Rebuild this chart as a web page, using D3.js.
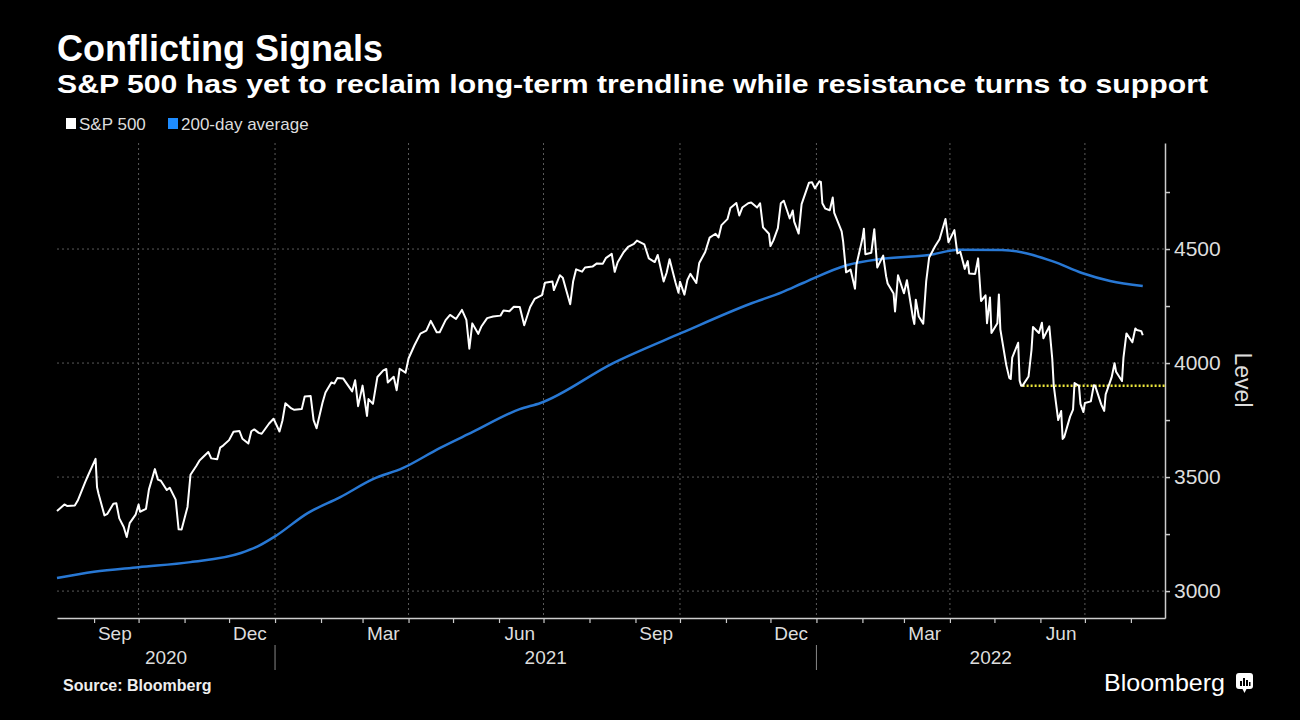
<!DOCTYPE html>
<html>
<head>
<meta charset="utf-8">
<script src="https://cdn.jsdelivr.net/npm/d3@7"></script>
<style>
  body { margin: 0; background: #000; }
  svg text { font-family: "Liberation Sans", Arial, sans-serif; }
</style>
</head>
<body>
<svg id="chart" width="1300" height="720"></svg>
<script>
// S&P 500 closes
var spx = [
  ["2020-08-07",3351],["2020-08-12",3380],["2020-08-14",3373],["2020-08-19",3375],["2020-08-21",3397],
  ["2020-08-26",3478],["2020-08-28",3508],["2020-09-02",3580],["2020-09-03",3455],["2020-09-04",3427],
  ["2020-09-08",3332],["2020-09-10",3339],["2020-09-14",3383],["2020-09-16",3385],["2020-09-18",3319],
  ["2020-09-21",3281],["2020-09-23",3237],["2020-09-25",3298],["2020-09-29",3335],["2020-10-01",3380],
  ["2020-10-02",3348],["2020-10-06",3361],["2020-10-08",3446],["2020-10-12",3535],["2020-10-14",3489],
  ["2020-10-16",3484],["2020-10-20",3443],["2020-10-22",3453],["2020-10-26",3401],["2020-10-28",3271],
  ["2020-10-30",3270],["2020-11-03",3369],["2020-11-05",3510],["2020-11-09",3550],["2020-11-11",3572],
  ["2020-11-13",3585],["2020-11-17",3610],["2020-11-19",3582],["2020-11-23",3578],["2020-11-25",3629],
  ["2020-11-27",3638],["2020-12-01",3662],["2020-12-04",3699],["2020-12-08",3702],["2020-12-10",3668],
  ["2020-12-14",3647],["2020-12-16",3701],["2020-12-18",3709],["2020-12-21",3694],["2020-12-23",3690],
  ["2020-12-28",3735],["2020-12-31",3756],["2021-01-04",3700],["2021-01-06",3748],["2021-01-08",3824],
  ["2021-01-12",3801],["2021-01-14",3795],["2021-01-19",3798],["2021-01-21",3853],["2021-01-25",3855],
  ["2021-01-27",3750],["2021-01-29",3714],["2021-02-02",3826],["2021-02-04",3871],["2021-02-08",3915],
  ["2021-02-10",3910],["2021-02-12",3934],["2021-02-16",3932],["2021-02-18",3913],["2021-02-22",3876],
  ["2021-02-24",3925],["2021-02-26",3811],["2021-03-01",3901],["2021-03-04",3768],["2021-03-05",3842],
  ["2021-03-08",3821],["2021-03-11",3939],["2021-03-15",3968],["2021-03-17",3974],["2021-03-18",3915],
  ["2021-03-22",3940],["2021-03-24",3881],["2021-03-26",3975],["2021-03-30",3958],["2021-04-01",4020],
  ["2021-04-05",4078],["2021-04-09",4129],["2021-04-13",4142],["2021-04-16",4185],["2021-04-20",4135],
  ["2021-04-22",4135],["2021-04-26",4188],["2021-04-29",4211],["2021-05-03",4193],["2021-05-07",4233],
  ["2021-05-10",4189],["2021-05-12",4063],["2021-05-14",4174],["2021-05-18",4128],["2021-05-20",4159],
  ["2021-05-24",4197],["2021-05-28",4204],["2021-06-02",4208],["2021-06-04",4230],["2021-06-08",4227],
  ["2021-06-11",4247],["2021-06-15",4246],["2021-06-18",4166],["2021-06-22",4246],["2021-06-25",4281],
  ["2021-06-30",4298],["2021-07-02",4352],["2021-07-07",4358],["2021-07-08",4320],["2021-07-12",4385],
  ["2021-07-14",4374],["2021-07-16",4327],["2021-07-19",4258],["2021-07-21",4359],["2021-07-23",4411],
  ["2021-07-27",4401],["2021-07-29",4419],["2021-08-03",4423],["2021-08-06",4437],["2021-08-10",4436],
  ["2021-08-12",4460],["2021-08-16",4479],["2021-08-18",4400],["2021-08-20",4442],["2021-08-24",4486],
  ["2021-08-27",4509],["2021-08-31",4523],["2021-09-02",4537],["2021-09-07",4520],["2021-09-10",4459],
  ["2021-09-14",4443],["2021-09-16",4474],["2021-09-20",4358],["2021-09-22",4396],["2021-09-24",4455],
  ["2021-09-28",4353],["2021-09-30",4308],["2021-10-01",4357],["2021-10-04",4300],["2021-10-06",4364],
  ["2021-10-08",4391],["2021-10-12",4351],["2021-10-14",4439],["2021-10-18",4487],["2021-10-21",4550],
  ["2021-10-25",4567],["2021-10-27",4551],["2021-10-29",4605],["2021-11-02",4631],["2021-11-04",4680],
  ["2021-11-08",4702],["2021-11-10",4647],["2021-11-12",4682],["2021-11-16",4701],["2021-11-18",4704],
  ["2021-11-22",4682],["2021-11-24",4701],["2021-11-26",4595],["2021-11-30",4567],["2021-12-01",4513],
  ["2021-12-03",4538],["2021-12-06",4592],["2021-12-08",4701],["2021-12-10",4712],["2021-12-14",4634],
  ["2021-12-16",4669],["2021-12-17",4620],["2021-12-20",4568],["2021-12-22",4697],["2021-12-27",4791],
  ["2021-12-29",4793],["2021-12-31",4766],["2022-01-03",4797],["2022-01-04",4794],["2022-01-05",4701],
  ["2022-01-07",4677],["2022-01-10",4670],["2022-01-12",4726],["2022-01-13",4659],["2022-01-18",4577],
  ["2022-01-19",4533],["2022-01-21",4398],["2022-01-24",4410],["2022-01-27",4326],["2022-01-28",4432],
  ["2022-02-01",4546],["2022-02-02",4589],["2022-02-03",4477],["2022-02-07",4484],["2022-02-09",4587],
  ["2022-02-11",4419],["2022-02-15",4471],["2022-02-17",4380],["2022-02-18",4349],["2022-02-22",4305],
  ["2022-02-23",4226],["2022-02-25",4385],["2022-03-01",4306],["2022-03-03",4363],["2022-03-07",4201],
  ["2022-03-08",4171],["2022-03-09",4278],["2022-03-11",4204],["2022-03-14",4173],["2022-03-16",4358],
  ["2022-03-18",4463],["2022-03-22",4512],["2022-03-25",4543],["2022-03-29",4632],["2022-03-31",4530],
  ["2022-04-04",4583],["2022-04-06",4481],["2022-04-08",4488],["2022-04-11",4413],["2022-04-13",4447],
  ["2022-04-14",4393],["2022-04-18",4391],["2022-04-20",4459],["2022-04-22",4272],["2022-04-25",4297],
  ["2022-04-26",4175],["2022-04-28",4288],["2022-04-29",4132],["2022-05-03",4175],["2022-05-04",4301],
  ["2022-05-05",4147],["2022-05-09",3991],["2022-05-11",3935],["2022-05-12",3930],["2022-05-13",4024],
  ["2022-05-17",4089],["2022-05-18",3923],["2022-05-19",3901],["2022-05-20",3901],["2022-05-24",3941],
  ["2022-05-26",4058],["2022-05-27",4158],["2022-05-31",4132],["2022-06-02",4177],["2022-06-03",4109],
  ["2022-06-07",4161],["2022-06-09",4018],["2022-06-10",3901],["2022-06-13",3750],["2022-06-15",3790],
  ["2022-06-16",3667],["2022-06-17",3675],["2022-06-21",3765],["2022-06-23",3796],["2022-06-24",3912],
  ["2022-06-27",3900],["2022-06-28",3821],["2022-06-30",3785],["2022-07-01",3825],["2022-07-05",3832],
  ["2022-07-07",3903],["2022-07-08",3899],["2022-07-12",3819],["2022-07-14",3790],["2022-07-15",3863],
  ["2022-07-19",3937],["2022-07-21",3999],["2022-07-22",3962],["2022-07-26",3921],["2022-07-27",4024],
  ["2022-07-29",4130],["2022-08-02",4091],["2022-08-04",4152],["2022-08-05",4145],["2022-08-08",4140],
  ["2022-08-09",4122]
];

// 200-day moving average
var ma200 = [
  ["2020-08-07",3057],["2020-09-01",3085],["2020-10-01",3105],["2020-11-05",3127],["2020-12-09",3167],
  ["2020-12-20",3195],["2021-01-01",3240],["2021-01-23",3342],["2021-02-14",3412],["2021-03-08",3491],
  ["2021-03-28",3539],["2021-04-22",3627],["2021-05-14",3697],["2021-06-15",3798],["2021-06-29",3825],
  ["2021-08-17",4000],["2021-10-02",4132],["2021-11-17",4259],["2021-12-09",4311],["2021-12-23",4351],
  ["2022-01-22",4430],["2022-02-13",4456],["2022-03-18",4474],["2022-04-07",4497],["2022-05-06",4496],
  ["2022-06-09",4447],["2022-06-29",4395],["2022-07-18",4360],["2022-08-09",4338]
];

// support line drawn from the May low
var support = [["2022-05-20",3900],["2022-08-24",3900]];

var yMajor = [3000, 3500, 4000, 4500];
var yMinor = [3250, 3750, 4250, 4750];
var monthLabels = ["Sep", "Dec", "Mar", "Jun"];
var years = ["2020", "2021", "2022"];

var parse = d3.timeParse("%Y-%m-%d");
var svg = d3.select("#chart");

var plotLeft = 57, plotRight = 1165, plotTop = 143, plotBottom = 618;

var x = d3.scaleTime()
  .domain([new Date(2020, 7, 7), new Date(2022, 7, 24)])
  .range([plotLeft, plotRight]);
var y = d3.scaleLinear().domain([2882, 4965]).range([plotBottom, plotTop]);

svg.append("rect").attr("width", 1300).attr("height", 720).attr("fill", "#000");

// titles
svg.append("text").attr("x", 57).attr("y", 61)
  .attr("fill", "#fff").attr("font-size", 36).attr("font-weight", "bold")
  .text("Conflicting Signals");
svg.append("text").attr("x", 57).attr("y", 93)
  .attr("fill", "#fff").attr("font-size", 25).attr("font-weight", "bold")
  .attr("textLength", 1151).attr("lengthAdjust", "spacingAndGlyphs")
  .text("S&P 500 has yet to reclaim long-term trendline while resistance turns to support");

// legend
var legend = [{name: "S&P 500", color: "#fff", x: 66}, {name: "200-day average", color: "#1e8cff", x: 168}];
legend.forEach(function(d) {
  svg.append("rect").attr("x", d.x).attr("y", 118).attr("width", 10).attr("height", 11).attr("fill", d.color);
  svg.append("text").attr("x", d.x + 13).attr("y", 130).attr("fill", "#ddd").attr("font-size", 17).text(d.name);
});

// gridlines
svg.append("g").selectAll("line").data(yMajor).enter().append("line")
  .attr("x1", plotLeft).attr("x2", plotRight)
  .attr("y1", function(d) { return y(d); }).attr("y2", function(d) { return y(d); })
  .attr("stroke", "#5a5a5a").attr("stroke-dasharray", "2,3");

var months = d3.timeMonth.range(new Date(2020, 7, 8), new Date(2022, 7, 24));
var quarters = months.filter(function(d) { return d.getMonth() % 3 === 0; });
svg.append("g").selectAll("line").data(quarters).enter().append("line")
  .attr("x1", function(d) { return x(d); }).attr("x2", function(d) { return x(d); })
  .attr("y1", plotTop).attr("y2", plotBottom)
  .attr("stroke", "#5a5a5a").attr("stroke-dasharray", "2,3");

// right axis
var yAxis = d3.axisRight(y)
  .tickValues(yMajor.concat(yMinor))
  .tickSize(5).tickSizeOuter(0)
  .tickFormat(function(d) { return yMajor.indexOf(d) >= 0 ? d : ""; });
var gy = svg.append("g").attr("transform", "translate(" + plotRight + ",0)").call(yAxis);
gy.select(".domain").attr("stroke", "#ccc").attr("stroke-width", 1.5);
gy.selectAll(".tick line").attr("stroke", "#ccc").attr("stroke-width", 1.5);
gy.selectAll(".tick text").attr("fill", "#ddd").attr("font-size", 21)
  .attr("x", 9).attr("font-family", "Liberation Sans, Arial, sans-serif");

svg.append("text")
  .attr("transform", "translate(1235,380) rotate(90)")
  .attr("text-anchor", "middle").attr("fill", "#ddd").attr("font-size", 23)
  .text("Level");

// bottom axis
var xAxis = d3.axisBottom(x).tickValues(months).tickSize(5).tickSizeOuter(0).tickFormat("");
var gx = svg.append("g").attr("transform", "translate(0," + plotBottom + ")").call(xAxis);
gx.select(".domain").attr("stroke", "#ccc").attr("stroke-width", 1.5);
gx.selectAll(".tick line").attr("stroke", "#ccc").attr("stroke-width", 1.2);

var labelled = months.filter(function(d) { return d.getMonth() % 3 === 2; });
svg.append("g").selectAll("text").data(labelled).enter().append("text")
  .attr("x", function(d) { return x(d3.timeDay.offset(d, 14)); })
  .attr("y", 640).attr("text-anchor", "middle")
  .attr("fill", "#ddd").attr("font-size", 19)
  .text(function(d) { return monthLabels[[8, 11, 2, 5].indexOf(d.getMonth())]; });

var yearStarts = [new Date(2021, 0, 1), new Date(2022, 0, 1)];
svg.append("g").selectAll("line").data(yearStarts).enter().append("line")
  .attr("x1", function(d) { return x(d); }).attr("x2", function(d) { return x(d); })
  .attr("y1", 645).attr("y2", 670).attr("stroke", "#888").attr("stroke-width", 1);

var edges = [x.domain()[0]].concat(yearStarts, [x.domain()[1]]);
svg.append("g").selectAll("text").data(years).enter().append("text")
  .attr("x", function(d, i) { return (x(edges[i]) + x(edges[i + 1])) / 2; })
  .attr("y", 664).attr("text-anchor", "middle")
  .attr("fill", "#ddd").attr("font-size", 19)
  .text(function(d) { return d; });

// lines
var line = d3.line()
  .x(function(d) { return x(parse(d[0])); })
  .y(function(d) { return y(d[1]); });

svg.append("path").datum(ma200).attr("d", line.curve(d3.curveMonotoneX))
  .attr("fill", "none").attr("stroke", "#2878d4").attr("stroke-width", 2.5);

line.curve(d3.curveLinear);
svg.append("path").datum(support).attr("d", line)
  .attr("fill", "none").attr("stroke", "#ebe53c").attr("stroke-width", 2.5).attr("stroke-dasharray", "2,2");

svg.append("path").datum(spx).attr("d", line)
  .attr("fill", "none").attr("stroke", "#fff").attr("stroke-width", 2).attr("stroke-linejoin", "round");

// footer
svg.append("text").attr("x", 63).attr("y", 691)
  .attr("fill", "#eee").attr("font-size", 16).attr("font-weight", "bold")
  .text("Source: Bloomberg");

svg.append("text").attr("x", 1104).attr("y", 691)
  .attr("fill", "#fff").attr("font-size", 24)
  .attr("textLength", 121).attr("lengthAdjust", "spacingAndGlyphs")
  .text("Bloomberg");
var logo = svg.append("g").attr("transform", "translate(1236,673)");
logo.append("rect").attr("width", 17).attr("height", 16).attr("rx", 3).attr("fill", "#fff");
logo.append("path").attr("d", "M6,15 L8.5,20 L11,15 Z").attr("fill", "#fff");
[[4, 8, 2], [7, 5, 2], [10, 7, 2], [13, 9, 1.5]].forEach(function(b) {
  logo.append("rect").attr("x", b[0]).attr("y", b[1]).attr("width", b[2]).attr("height", 13 - b[1]).attr("fill", "#000");
});
</script>
</body>
</html>
